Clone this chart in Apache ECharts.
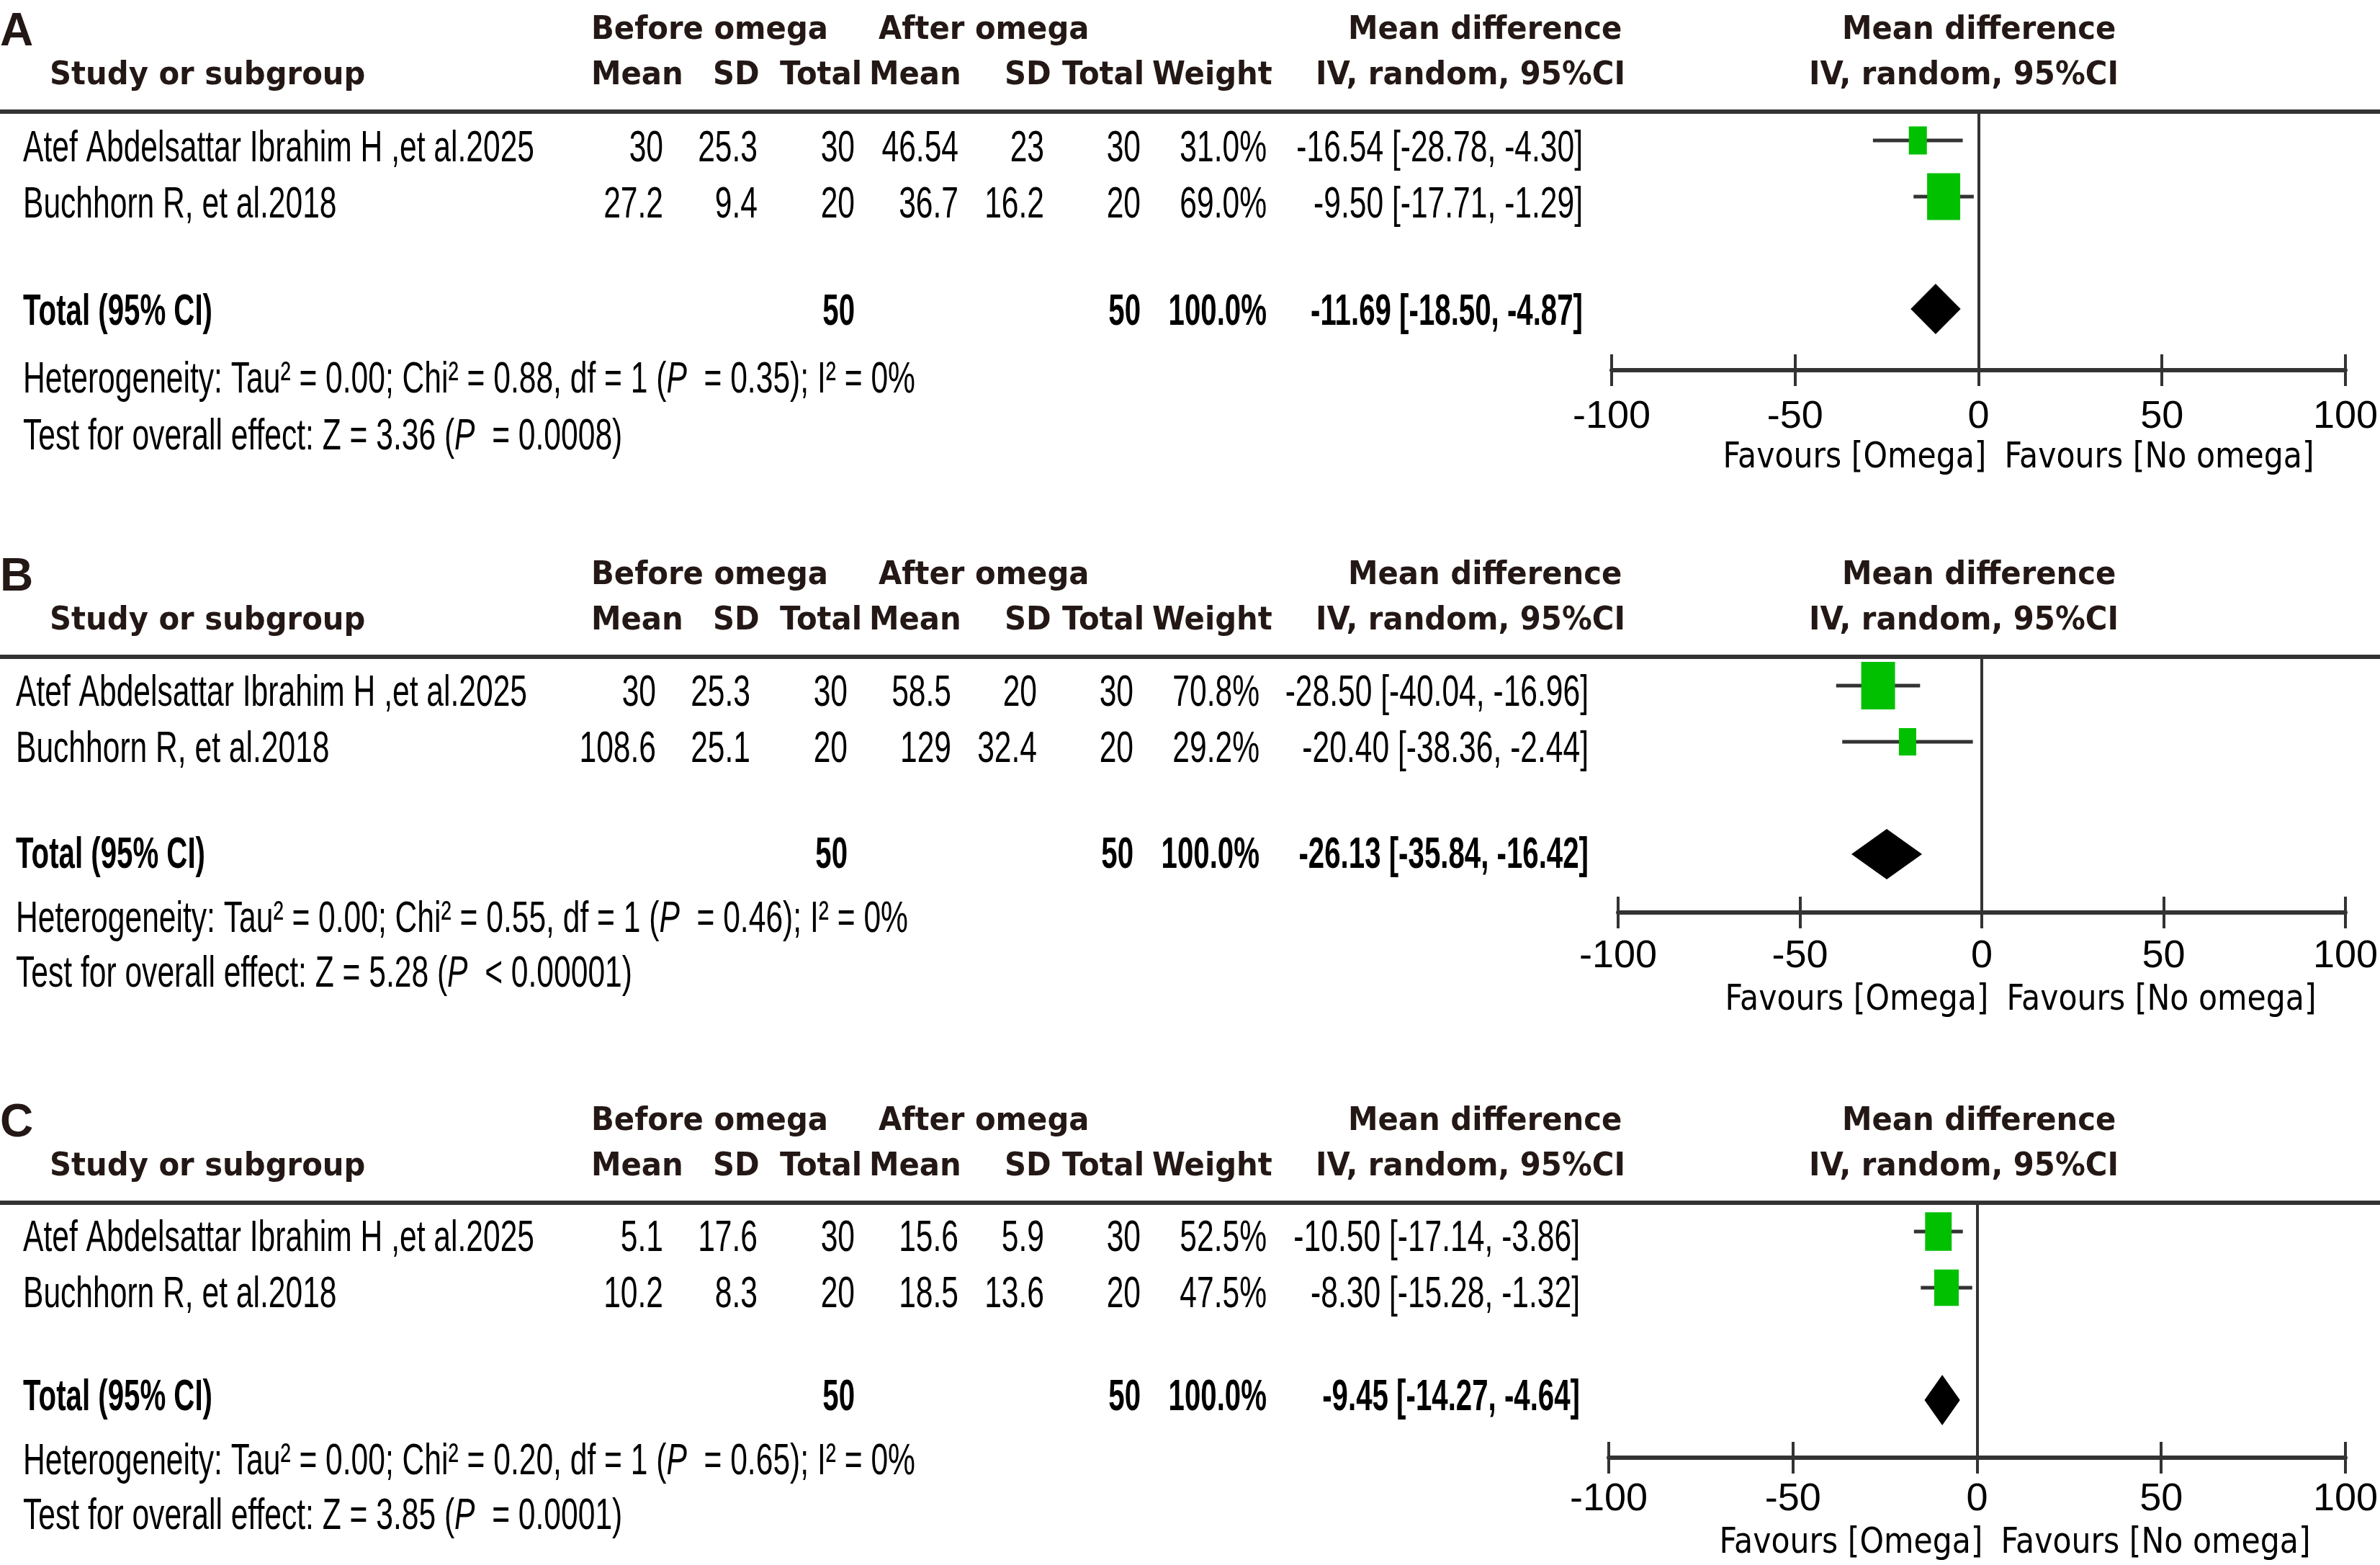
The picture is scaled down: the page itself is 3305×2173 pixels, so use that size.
<!DOCTYPE html>
<html><head><meta charset="utf-8">
<script src="https://cdn.jsdelivr.net/npm/echarts@6/dist/echarts.min.js"></script>
<style>html,body{margin:0;padding:0;background:#fff}#c{width:3305px;height:2173px}</style>
</head><body><div id="c"></div>
<script>
// ---------------- DATA ----------------
const panelLetters = ['A', 'B', 'C'];
const studyNames = ['Atef Abdelsattar Ibrahim H ,et al.2025', 'Buchhorn R, et al.2018'];
const beforeMean = [[30, 27.2], [30, 108.6], [5.1, 10.2]];
const beforeSD = [[25.3, 9.4], [25.3, 25.1], [17.6, 8.3]];
const beforeTotal = [[30, 20], [30, 20], [30, 20]];
const afterMean = [[46.54, 36.7], [58.5, 129], [15.6, 18.5]];
const afterSD = [[23, 16.2], [20, 32.4], [5.9, 13.6]];
const afterTotal = [[30, 20], [30, 20], [30, 20]];
const weights = [[31.0, 69.0], [70.8, 29.2], [52.5, 47.5]];
const meanDiff = [[-16.54, -9.50], [-28.50, -20.40], [-10.50, -8.30]];
const ciLower = [[-28.78, -17.71], [-40.04, -38.36], [-17.14, -15.28]];
const ciUpper = [[-4.30, -1.29], [-16.96, -2.44], [-3.86, -1.32]];
const totalBefore = [50, 50, 50];
const totalAfter = [50, 50, 50];
const totalWeight = [100.0, 100.0, 100.0];
const pooledMD = [-11.69, -26.13, -9.45];
const pooledLower = [-18.50, -35.84, -14.27];
const pooledUpper = [-4.87, -16.42, -4.64];
const tau2 = ['0.00', '0.00', '0.00'];
const chi2 = ['0.88', '0.55', '0.20'];
const hetDf = ['1', '1', '1'];
const hetP = ['= 0.35', '= 0.46', '= 0.65'];
const iSquared = ['0%', '0%', '0%'];
const zValue = ['3.36', '5.28', '3.85'];
const zP = ['= 0.0008', '< 0.00001', '= 0.0001'];
const xTicks = [-100, -50, 0, 50, 100];
const favoursLeft = 'Favours [Omega]';
const favoursRight = 'Favours [No omega]';
const headerGroup = ['Before omega', 'After omega'];
const headerCols = ['Mean', 'SD', 'Total', 'Mean', 'SD', 'Total', 'Weight'];

// ---------------- LAYOUT ----------------
const L = [155, 912, 1670];            // header rule y of each panel
const gridLeft = [2238, 2247, 2234];
const gridRight = [3273, 3270, 3267];
const gridH = [359, 355, 354];
const bodyDx = [0, -10, 0];
const ciDx = [0, 8, -4];
const rowY0 = [52, 51, 50];
const totalY = [279, 276, 271];
const hetY = [373, 365, 360];
const testY = [452, 441, 436];
const labelMargin = [38, 34, 31];
const favY = [481, 477, 473];
const rowPos = [0, 1];
const totalPos = 3;
const ROW_PX = 78, ROW0_PX = 40;

const ctx = document.createElement('canvas').getContext('2d');
function measure(font, s) { ctx.font = font; return ctx.measureText(s).width; }
const BODY_FAM = "'Liberation Sans', Arial, sans-serif";
const BODY_FONT = "62px " + BODY_FAM;
const BODY_BOLD = "bold 62px " + BODY_FAM;
const BODY_ITAL = "italic 62px " + BODY_FAM;
const HEAD_FONT = "bold 44px 'DejaVu Sans', Verdana, sans-serif";
const FAV_FONT = "50px 'DejaVu Sans', Verdana, sans-serif";
const LETTER_FONT = "bold 64px " + BODY_FAM;
const bodyScale = 710 / measure(BODY_FONT, studyNames[0]);
const boldScale = 263 / measure(BODY_BOLD, 'Total (95% CI)');
const headScale = 329 / measure(HEAD_FONT, headerGroup[0]);
const favScale = 366 / measure(FAV_FONT, favoursLeft);

function txt(x, y, s, font, scale, align, fill, rich) {
  const st = { text: s, font: font, fill: fill || '#000', textAlign: align, textVerticalAlign: 'middle' };
  if (rich) st.rich = rich;
  return { type: 'text', x: x, y: y, scaleX: scale, scaleY: 1, silent: true, style: st };
}
function fmt(v) { return String(v); }
function fmtW(v) { return v.toFixed(1) + '%'; }
function fmtCI(m, lo, hi) { return m.toFixed(2) + ' [' + lo.toFixed(2) + ', ' + hi.toFixed(2) + ']'; }

const HEAD_FILL = '#231815';
const colRight = [921, 1052, 1187, 1331, 1450, 1584, 1759];
const ciRight = 2198;
const headLeft2 = [821, 990, 1083, 1207, 1395, 1475, 1600];

const graphics = [];
const grids = [], xAxes = [], yAxes = [], series = [];

panelLetters.forEach(function (letter, p) {
  const top = L[p];
  // header rule
  graphics.push({ type: 'line', silent: true, shape: { x1: 0, y1: top, x2: 3305, y2: top },
    style: { stroke: '#333', lineWidth: 6 } });
  // letter
  graphics.push(txt(0, top - 110, letter, LETTER_FONT, 1, 'left', HEAD_FILL));
  // header row 1
  const h1 = top - 112, h2 = top - 49;
  graphics.push(txt(821, h1, headerGroup[0], HEAD_FONT, headScale, 'left', HEAD_FILL));
  graphics.push(txt(1220, h1, headerGroup[1], HEAD_FONT, headScale, 'left', HEAD_FILL));
  graphics.push(txt(1872, h1, 'Mean difference', HEAD_FONT, headScale, 'left', HEAD_FILL));
  graphics.push(txt(2558, h1, 'Mean difference', HEAD_FONT, headScale, 'left', HEAD_FILL));
  // header row 2
  graphics.push(txt(69, h2, 'Study or subgroup', HEAD_FONT, headScale, 'left', HEAD_FILL));
  headerCols.forEach(function (h, k) {
    graphics.push(txt(headLeft2[k], h2, h, HEAD_FONT, headScale, 'left', HEAD_FILL));
  });
  graphics.push(txt(1827, h2, 'IV, random, 95%CI', HEAD_FONT, headScale, 'left', HEAD_FILL));
  graphics.push(txt(2512, h2, 'IV, random, 95%CI', HEAD_FONT, headScale, 'left', HEAD_FILL));

  const dx = bodyDx[p];
  // study rows
  studyNames.forEach(function (name, i) {
    const y = top + rowY0[p] + i * 78;
    graphics.push(txt(32 + dx, y, name, BODY_FONT, bodyScale, 'left'));
    const vals = [fmt(beforeMean[p][i]), fmt(beforeSD[p][i]), fmt(beforeTotal[p][i]),
      fmt(afterMean[p][i]), fmt(afterSD[p][i]), fmt(afterTotal[p][i]), fmtW(weights[p][i])];
    vals.forEach(function (v, k) {
      graphics.push(txt(colRight[k] + dx, y, v, BODY_FONT, bodyScale, 'right'));
    });
    graphics.push(txt(ciRight + ciDx[p], y, fmtCI(meanDiff[p][i], ciLower[p][i], ciUpper[p][i]), BODY_FONT, bodyScale, 'right'));
  });
  // total row
  const ty = top + totalY[p];
  graphics.push(txt(32 + dx, ty, 'Total (95% CI)', BODY_BOLD, boldScale, 'left'));
  graphics.push(txt(colRight[2] + dx, ty, fmt(totalBefore[p]), BODY_BOLD, boldScale, 'right'));
  graphics.push(txt(colRight[5] + dx, ty, fmt(totalAfter[p]), BODY_BOLD, boldScale, 'right'));
  graphics.push(txt(colRight[6] + dx, ty, fmtW(totalWeight[p]), BODY_BOLD, boldScale, 'right'));
  graphics.push(txt(ciRight + ciDx[p], ty, fmtCI(pooledMD[p], pooledLower[p], pooledUpper[p]), BODY_BOLD, boldScale, 'right'));
  // heterogeneity + test
  const rich = { i: { font: BODY_ITAL, fill: '#000' } };
  graphics.push(txt(32 + dx, top + hetY[p],
    'Heterogeneity: Tau\u00b2 = ' + tau2[p] + '; Chi\u00b2 = ' + chi2[p] + ', df = ' + hetDf[p] +
    ' ({i|P}  ' + hetP[p] + '); I\u00b2 = ' + iSquared[p], BODY_FONT, bodyScale, 'left', '#000', rich));
  graphics.push(txt(32 + dx, top + testY[p],
    'Test for overall effect: Z = ' + zValue[p] + ' ({i|P}  ' + zP[p] + ')', BODY_FONT, bodyScale, 'left', '#000', rich));
  // favours
  const zeroX = (gridLeft[p] + gridRight[p]) / 2;
  graphics.push(txt(zeroX + 3, top + favY[p], favoursLeft, FAV_FONT, favScale, 'right'));
  graphics.push(txt(zeroX + 28, top + favY[p], favoursRight, FAV_FONT, favScale, 'left'));

  // grid & axes
  const H = gridH[p];
  grids.push({ left: gridLeft[p], width: gridRight[p] - gridLeft[p], top: top, height: H, containLabel: false });
  xAxes.push({
    gridIndex: p, type: 'value', min: xTicks[0], max: xTicks[xTicks.length - 1], interval: 50, position: 'bottom',
    axisLine: { show: true, onZero: false, lineStyle: { color: '#333', width: 6 } },
    axisTick: { show: true, inside: false, length: 22, lineStyle: { color: '#333', width: 4 } },
    axisLabel: { show: true, margin: labelMargin[p], fontSize: 54, lineHeight: 54, color: '#000',
      fontFamily: "'Liberation Sans Narrow', 'Liberation Sans', sans-serif" },
    splitLine: { show: false }
  });
  xAxes.push({
    gridIndex: p, type: 'value', min: xTicks[0], max: xTicks[xTicks.length - 1], interval: 50, position: 'top', offset: -H,
    axisLine: { show: false, onZero: false },
    axisTick: { show: true, inside: false, length: 22, lineStyle: { color: '#333', width: 4 } },
    axisLabel: { show: false }, splitLine: { show: false }
  });
  yAxes.push({ gridIndex: p, type: 'value', min: -ROW0_PX / ROW_PX, max: (H - ROW0_PX) / ROW_PX, inverse: true, show: false });

  series.push({
    type: 'custom', xAxisIndex: 2 * p, yAxisIndex: p, silent: true, clip: false,
    data: studyNames.map(function (_, i) { return [meanDiff[p][i], ciLower[p][i], ciUpper[p][i], rowPos[i], weights[p][i]]; }),
    encode: { x: [0, 1, 2], y: 3 },
    renderItem: function (params, api) {
      const y = api.value(3);
      const c = api.coord([api.value(0), y]);
      const l = api.coord([api.value(1), y]);
      const r = api.coord([api.value(2), y]);
      const w = api.value(4);
      const bw = 8 + 0.55 * w, bh = 18 + 0.68 * w;
      return { type: 'group', children: [
        { type: 'line', shape: { x1: l[0], y1: l[1], x2: r[0], y2: r[1] }, style: { stroke: '#333', lineWidth: 5 } },
        { type: 'rect', shape: { x: c[0] - bw / 2, y: c[1] - bh / 2, width: bw, height: bh }, style: { fill: '#00c000' } }
      ] };
    },
    markLine: { silent: true, symbol: ['none', 'none'], label: { show: false },
      lineStyle: { color: '#333', width: 4, type: 'solid' }, data: [{ xAxis: 0 }] }
  });
  series.push({
    type: 'custom', xAxisIndex: 2 * p, yAxisIndex: p, silent: true, clip: false,
    data: [[pooledMD[p], pooledLower[p], pooledUpper[p], totalPos]],
    encode: { x: [0, 1, 2], y: 3 },
    renderItem: function (params, api) {
      const y = api.value(3);
      const c = api.coord([api.value(0), y]);
      const l = api.coord([api.value(1), y]);
      const r = api.coord([api.value(2), y]);
      const h = 35;
      return { type: 'polygon', shape: { points: [[l[0], c[1]], [c[0], c[1] - h], [r[0], c[1]], [c[0], c[1] + h]] },
        style: { fill: '#000' } };
    }
  });
});

const chart = echarts.init(document.getElementById('c'), null, { renderer: 'canvas' });
chart.setOption({
  animation: false,
  backgroundColor: '#fff',
  grid: grids, xAxis: xAxes, yAxis: yAxes, series: series,
  graphic: { elements: graphics }
});
</script></body></html>
